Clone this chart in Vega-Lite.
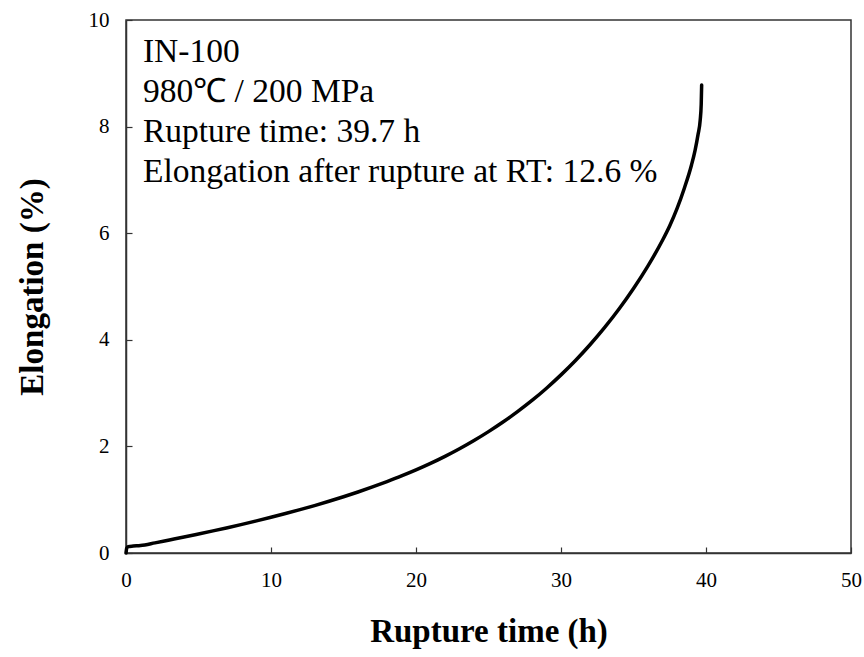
{
  "$schema": "https://vega.github.io/schema/vega-lite/v6.json",
  "width": 725,
  "height": 533,
  "autosize": "none",
  "padding": {"left": 126, "top": 20, "right": 13, "bottom": 104},
  "background": "white",
  "config": {
    "view": {"stroke": "#333333", "strokeWidth": 1.5},
    "font": "Liberation Serif",
    "axis": {
      "grid": false,
      "domainColor": "#333333",
      "domainWidth": 1.5,
      "tickColor": "#333333",
      "tickWidth": 1.2,
      "tickSize": -6,
      "labelFont": "Liberation Serif",
      "labelFontSize": 21,
      "labelColor": "black",
      "labelFlush": false,
      "titleFont": "Liberation Serif",
      "titleFontWeight": "bold",
      "titleFontSize": 33,
      "titleColor": "black"
    }
  },
  "datasets": {
    "curve": [
      {"t": 0, "e": 0},
      {"t": 0.05, "e": 0.09},
      {"t": 0.15, "e": 0.12},
      {"t": 0.5, "e": 0.13},
      {"t": 1, "e": 0.14},
      {"t": 2, "e": 0.19},
      {"t": 3, "e": 0.245},
      {"t": 4, "e": 0.3},
      {"t": 5, "e": 0.357},
      {"t": 6, "e": 0.415},
      {"t": 7, "e": 0.475},
      {"t": 8, "e": 0.537},
      {"t": 9, "e": 0.602},
      {"t": 10, "e": 0.67},
      {"t": 11, "e": 0.74},
      {"t": 12, "e": 0.813},
      {"t": 13, "e": 0.89},
      {"t": 14, "e": 0.97},
      {"t": 15, "e": 1.055},
      {"t": 16, "e": 1.145},
      {"t": 17, "e": 1.24},
      {"t": 18, "e": 1.34},
      {"t": 19, "e": 1.445},
      {"t": 20, "e": 1.558},
      {"t": 21, "e": 1.68},
      {"t": 22, "e": 1.812},
      {"t": 23, "e": 1.955},
      {"t": 24, "e": 2.11},
      {"t": 25, "e": 2.277},
      {"t": 26, "e": 2.457},
      {"t": 27, "e": 2.652},
      {"t": 28, "e": 2.862},
      {"t": 29, "e": 3.092},
      {"t": 30, "e": 3.342},
      {"t": 31, "e": 3.612},
      {"t": 32, "e": 3.907},
      {"t": 33, "e": 4.227},
      {"t": 34, "e": 4.577},
      {"t": 35, "e": 4.962},
      {"t": 36, "e": 5.387},
      {"t": 37, "e": 5.867},
      {"t": 37.5, "e": 6.14},
      {"t": 38, "e": 6.46},
      {"t": 38.5, "e": 6.84},
      {"t": 39, "e": 7.28},
      {"t": 39.25, "e": 7.56},
      {"t": 39.45, "e": 7.85},
      {"t": 39.6, "e": 8.12},
      {"t": 39.67, "e": 8.42},
      {"t": 39.7, "e": 8.78}
    ],
    "notes": [
      {"t": 1.17, "e": 9.217, "label": "IN-100"},
      {"t": 1.17, "e": 8.466, "label": "980℃ / 200 MPa"},
      {"t": 1.17, "e": 7.716, "label": "Rupture time: 39.7 h"},
      {"t": 1.17, "e": 6.966, "label": "Elongation after rupture at RT: 12.6 %"}
    ]
  },
  "encoding": {
    "x": {"field": "t", "type": "quantitative", "scale": {"domain": [0, 50], "nice": false}, "axis": {"values": [0, 10, 20, 30, 40, 50], "title": "Rupture time (h)", "labelFontSize": 21, "labelPadding": 22, "titlePadding": 25}},
    "y": {"field": "e", "type": "quantitative", "scale": {"domain": [0, 10], "nice": false}, "axis": {"values": [0, 2, 4, 6, 8, 10], "title": "Elongation (%)", "labelFontSize": 21, "labelPadding": 23, "titlePadding": 39}}
  },
  "layer": [
    {
      "data": {"name": "curve"},
      "mark": {"type": "line", "color": "black", "strokeWidth": 3.5, "strokeCap": "round", "strokeJoin": "round", "interpolate": "monotone"}
    },
    {
      "data": {"name": "notes"},
      "mark": {"type": "text", "align": "left", "baseline": "alphabetic", "font": "Liberation Serif", "fontSize": 33.5, "color": "black"},
      "encoding": {
        "text": {"field": "label"}
      }
    }
  ]
}
